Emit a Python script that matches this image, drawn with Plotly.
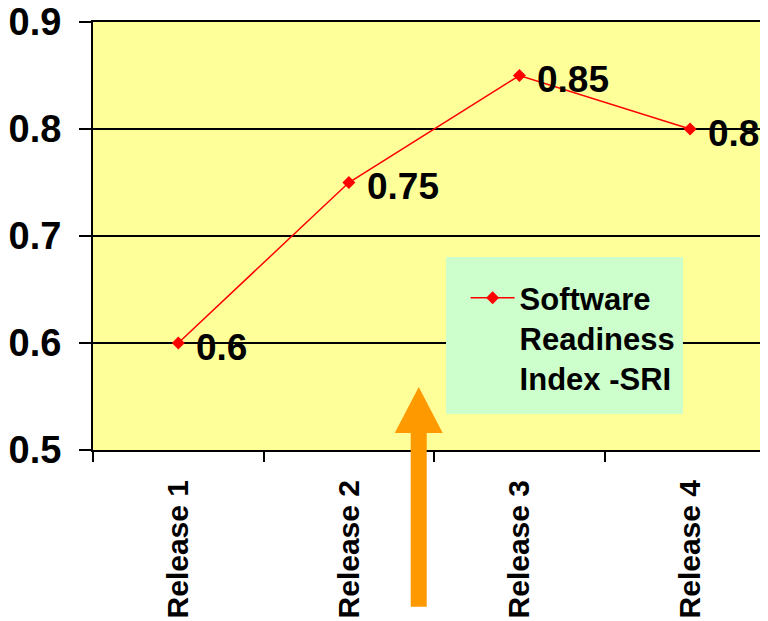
import plotly.graph_objects as go

categories = ["Release 1", "Release 2", "Release 3", "Release 4"]
sri_values = [0.6, 0.75, 0.85, 0.8]
value_labels = ["0.6", "0.75", "0.85", "0.8"]
y_ticks = [0.5, 0.6, 0.7, 0.8, 0.9]
y_tick_labels = ["0.5", "0.6", "0.7", "0.8", "0.9"]
series_name = "Software<br>Readiness<br>Index -SRI"

FONT = "Liberation Sans, Arial, sans-serif"

fig = go.Figure()
fig.add_trace(go.Scatter(
    x=categories, y=sri_values, mode="lines+markers", name=series_name,
    line=dict(color="#FF0000", width=1.5),
    marker=dict(symbol="diamond", size=10, color="#FF0000"),
    cliponaxis=False,
))

for c, v, t in zip(categories, sri_values, value_labels):
    fig.add_annotation(x=c, y=v, text="<b>%s</b>" % t, showarrow=False,
                       xanchor="left", yanchor="middle", xshift=16, yshift=-4,
                       font=dict(family=FONT, size=37, color="black"))

# legend background box (decoration)
fig.add_shape(type="rect", xref="paper", yref="paper", layer="above",
              x0=0.523, x1=0.874, y0=0.084, y1=0.451,
              fillcolor="#CCFFCC", line=dict(width=0))

# orange arrow (decoration)
fig.add_shape(type="path", xref="paper", yref="paper", layer="above",
              path="M 0.4707 -0.3663 L 0.4944 -0.3663 L 0.4944 0.0397 L 0.5181 0.0397 "
                   "L 0.4826 0.1472 L 0.4470 0.0397 L 0.4707 0.0397 Z",
              fillcolor="#FF9900", line=dict(width=0))

fig.update_layout(
    width=760, height=613,
    margin=dict(l=85, r=0, t=14, b=171, autoexpand=False),
    paper_bgcolor="white", plot_bgcolor="#FFFF99",
    font=dict(family=FONT, color="black"),
    showlegend=True,
    legend=dict(x=0.552, y=0.418, xanchor="left", yanchor="top",
                bgcolor="rgba(0,0,0,0)", borderwidth=0, valign="top",
                font=dict(family=FONT, size=31, color="black", weight="bold"),
                itemwidth=44, tracegroupgap=0),
    xaxis=dict(type="category", range=[-0.5, 3.457], tickson="boundaries",
               ticks="outside", ticklen=10, tickwidth=2, tickcolor="black",
               showline=True, linecolor="black", linewidth=2, showgrid=False,
               mirror=True,
               tickangle=-90, ticklabelstandoff=16, automargin=False,
               tickfont=dict(family=FONT, size=30, color="black", weight="bold")),
    yaxis=dict(range=[0.5, 0.9], tickvals=y_ticks, ticktext=y_tick_labels,
               ticks="outside", ticklen=12, tickwidth=2, tickcolor="black",
               showline=True, linecolor="black", linewidth=2,
               showgrid=True, gridcolor="black", gridwidth=1.5,
               zeroline=False, ticklabelstandoff=10, automargin=False,
               ticklabeloverflow="allow",
               tickfont=dict(family=FONT, size=38, color="black", weight="bold")),
)

fig.write_html("out.html")
